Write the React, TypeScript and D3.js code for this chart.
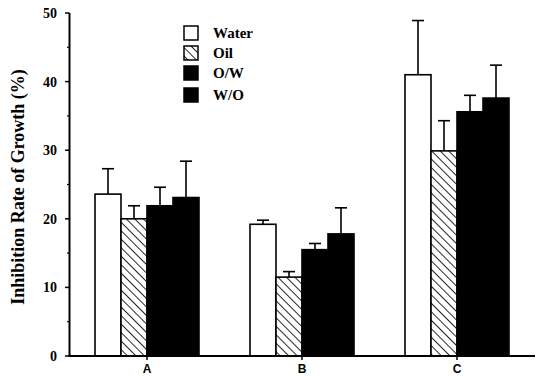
import React from "react";
import * as d3 from "d3";

const categories = ["A", "B", "C"];
const seriesNames = ["Water", "Oil", "O/W", "W/O"];
const waterMeans = [23.6, 19.2, 41.0];
const waterErr = [3.7, 0.6, 7.9];
const oilMeans = [20.0, 11.5, 29.9];
const oilErr = [1.9, 0.8, 4.4];
const owMeans = [21.9, 15.5, 35.6];
const owErr = [2.7, 0.9, 2.4];
const woMeans = [23.1, 17.8, 37.6];
const woErr = [5.3, 3.8, 4.8];
const yTicks = [0, 10, 20, 30, 40, 50];
const yMinorTicks = [5, 15, 25, 35, 45];

const W = 540, H = 376;
const serif = "'Liberation Serif', 'Times New Roman', serif";

export default function App() {
  const means = [waterMeans, oilMeans, owMeans, woMeans];
  const errs = [waterErr, oilErr, owErr, woErr];
  const fills = ["#fff", "url(#hatch)", "#000", "#000"];

  const x = d3.scaleBand<string>().domain(categories).range([69.5, 534.5]).paddingInner(0).paddingOuter(0);
  const groupW = 104;
  const xs = d3.scaleBand<string>().domain(seriesNames).range([0, groupW]);
  const y = d3.scaleLinear().domain([0, 50]).range([356, 13]);

  return (
    <svg width={W} height={H} style={{ position: "absolute", left: 0, top: 0 }}>
      <defs>
        <pattern id="hatch" patternUnits="userSpaceOnUse" width="6" height="6" patternTransform="rotate(-45)">
          <rect width="6" height="6" fill="#fff" />
          <line x1="0" y1="0" x2="0" y2="6" stroke="#000" strokeWidth="1.7" />
        </pattern>
      </defs>
      <rect width={W} height={H} fill="#fff" />
      {categories.map((c, ci) => {
        const gx = x(c)! + x.bandwidth() / 2 - groupW / 2;
        return seriesNames.map((s, si) => {
          const bx = gx + xs(s)!;
          const v = means[si][ci];
          const e = errs[si][ci];
          const cx = bx + xs.bandwidth() / 2;
          return (
            <g key={c + s}>
              <rect x={bx} y={y(v)} width={xs.bandwidth()} height={y(0) - y(v)} fill={fills[si]} stroke="#000" strokeWidth={1.6} />
              <line x1={cx} x2={cx} y1={y(v)} y2={y(v + e)} stroke="#000" strokeWidth={1.6} />
              <line x1={cx - 6} x2={cx + 6} y1={y(v + e)} y2={y(v + e)} stroke="#000" strokeWidth={1.6} />
            </g>
          );
        });
      })}
      <line x1={69.5} x2={69.5} y1={y(50)} y2={y(0)} stroke="#000" strokeWidth={2} />
      <line x1={68.5} x2={535} y1={y(0)} y2={y(0)} stroke="#000" strokeWidth={2} />
      {yTicks.map((t) => (
        <g key={t}>
          <line x1={65} x2={69.5} y1={y(t)} y2={y(t)} stroke="#000" strokeWidth={1.5} />
          <text x={57} y={y(t)} dy="0.35em" textAnchor="end" fontFamily={serif} fontWeight="bold" fontSize={14}>{t}</text>
        </g>
      ))}
      {yMinorTicks.map((t) => (
        <line key={t} x1={67} x2={69.5} y1={y(t)} y2={y(t)} stroke="#000" strokeWidth={1.2} />
      ))}
      {categories.map((c) => {
        const cx = x(c)! + x.bandwidth() / 2;
        return (
          <g key={c}>
            <line x1={cx} x2={cx} y1={y(0)} y2={y(0) + 4} stroke="#000" strokeWidth={1.5} />
            <text x={cx} y={369} dy="0.35em" textAnchor="middle" fontFamily="'Liberation Sans', Arial, sans-serif" fontWeight="bold" fontSize={12}>{c}</text>
          </g>
        );
      })}
      <text transform={`translate(18,187) rotate(-90)`} textAnchor="middle" dy="0.35em" fontFamily={serif} fontWeight="bold" fontSize={18}>Inhibition Rate of Growth (%)</text>
      {seriesNames.map((s, si) => {
        const ly = [33, 53, 73, 95][si];
        return (
          <g key={s}>
            <rect x={184} y={ly - 7} width={14} height={14} fill={fills[si]} stroke="#000" strokeWidth={1.5} />
            <text x={213} y={ly} dy="0.35em" fontFamily={serif} fontWeight="bold" fontSize={15}>{s}</text>
          </g>
        );
      })}
    </svg>
  );
}
